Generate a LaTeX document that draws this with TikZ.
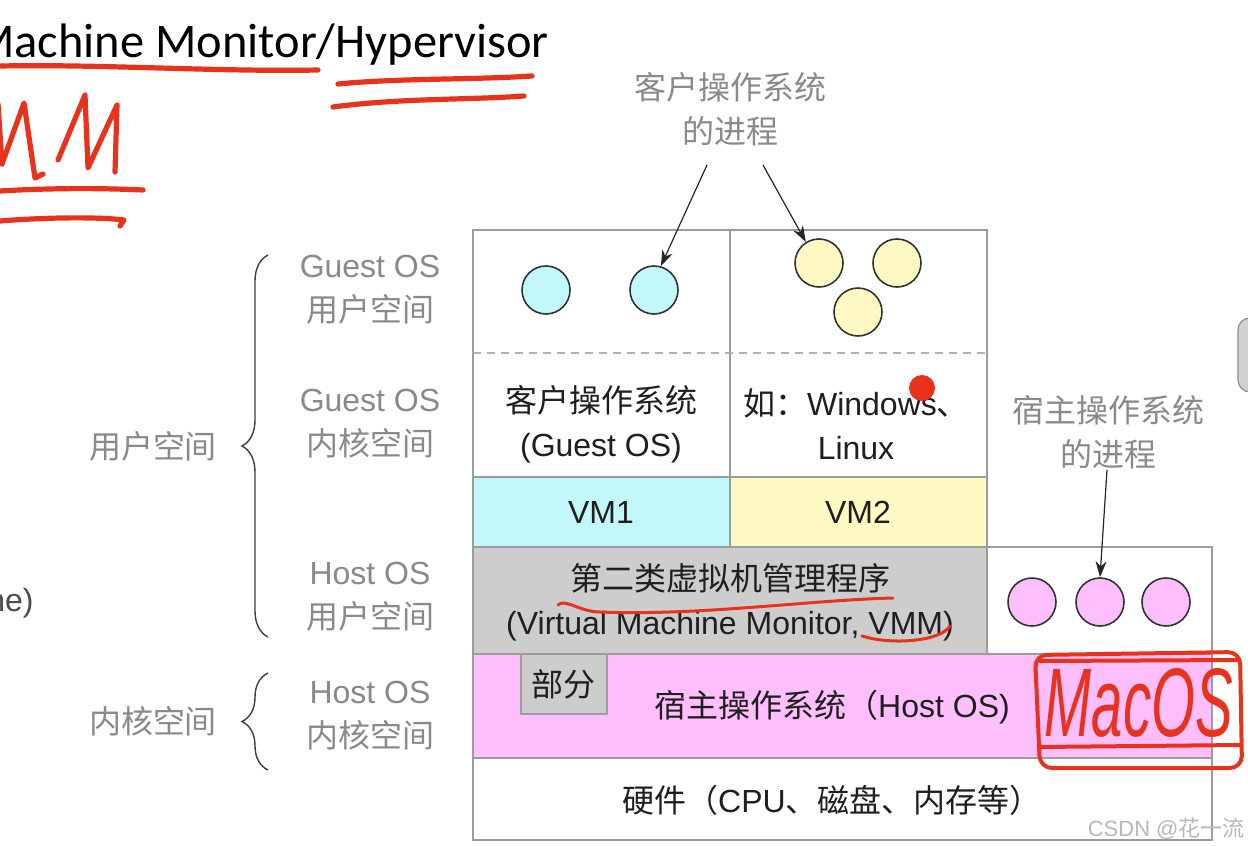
\documentclass[tikz,border=0pt]{standalone}
\usepackage{fontspec}
\usepackage{graphicx}
\setmainfont{Liberation Sans}
\newfontfamily\cjk{Noto Sans CJK SC}
\newfontfamily\titlefont{Carlito}
\usetikzlibrary{arrows.meta,decorations.pathreplacing}
\newcommand\zh[1]{{\cjk #1}}
\definecolor{boxline}{HTML}{9C9C9C}
\definecolor{cyanfill}{HTML}{C2F8F9}
\definecolor{yellowfill}{HTML}{FFFAC4}
\definecolor{grayfill}{HTML}{CDCDCD}
\definecolor{pinkfill}{HTML}{FFBEFD}
\definecolor{labelgray}{HTML}{8A8A8A}
\definecolor{inkred}{HTML}{E8321C}
\begin{document}
\begin{tikzpicture}[x=0.5pt,y=-0.5pt,
  layer/.style={draw=boxline, line width=0.75pt},
  txt/.style={font=\fontsize{16pt}{22pt}\selectfont, align=center, inner sep=0pt, text=black!88},
  side/.style={txt, text=labelgray},
  proc/.style={circle, draw=black!80, line width=0.8pt, minimum size=24pt, inner sep=0pt},
  pointer/.style={-{Stealth[length=8pt,width=5.5pt]}, line width=0.6pt, draw=black!85},
  bracepen/.style={draw=black!75, line width=0.7pt, decorate},
  redpen/.style={draw=inkred, line width=2.6pt, line cap=round, line join=round},
  thinred/.style={draw=inkred, line width=1.5pt, line cap=round, line join=round}]
\useasboundingbox (0,0) rectangle (1248,846);
\fill[white] (0,0) rectangle (1248,846);
\begin{scope}
\clip (0,0) rectangle (1248,846);

% ---------- title (cut at the left edge, as in the reference) ----------
\node[anchor=base west, inner sep=0pt, font=\titlefont\fontsize{24.2pt}{29pt}\selectfont] (title) at (-27,57) {Machine Monitor/Hypervisor};
\node[anchor=base west, inner sep=0pt, text=black!70, font=\fontsize{16pt}{22pt}\selectfont] (cut) at (-13,611) {ne)};

% ---------- layers ----------
\path[layer, fill=white] (473,230) rectangle (730,477);
\path[layer, fill=white] (730,230) rectangle (987,477);
\draw[boxline!80, line width=0.7pt, dash pattern=on 4pt off 3pt] (473,353) -- (987,353);
\path[layer, fill=cyanfill] (473,477) rectangle (730,547);
\path[layer, fill=yellowfill] (730,477) rectangle (987,547);
\path[layer, fill=grayfill] (473,547) rectangle (987,654);
\path[layer, fill=white] (987,547) rectangle (1212,654);
\path[layer, fill=pinkfill] (473,654) rectangle (1212,758);
\path[layer, fill=white] (473,758) rectangle (1212,840);
\path[layer, fill=grayfill] (521,654) rectangle (607,714);

% ---------- texts in layers ----------
\node[txt] (guest) at (601,424) {\zh{客户操作系统}\\(Guest OS)};
\node[txt] (eg) at (856,424) {\zh{如：}Windows\zh{、}\\Linux};
\node[txt] (vm1) at (601,512) {VM1};
\node[txt] (vm2) at (858,512) {VM2};
\node[txt] (vmm) at (730,602) {\zh{第二类虚拟机管理程序}\\(Virtual Machine Monitor, VMM)};
\node[txt] (part) at (563,684) {\zh{部分}};
\node[txt] (host) at (832,707) {\zh{宿主操作系统（}Host OS)};
\node[txt] (hw) at (832,800) {\zh{硬件（}CPU\zh{、磁盘、内存等）}};

% ---------- processes ----------
\node[proc, fill=cyanfill] (g1) at (546,290) {};
\node[proc, fill=cyanfill] (g2) at (654,290) {};
\node[proc, fill=yellowfill] (y1) at (819,263) {};
\node[proc, fill=yellowfill] (y2) at (897,263) {};
\node[proc, fill=yellowfill] (y3) at (858,312) {};
\node[proc, fill=pinkfill] (p1) at (1032,602) {};
\node[proc, fill=pinkfill] (p2) at (1100,602) {};
\node[proc, fill=pinkfill] (p3) at (1166,602) {};

% ---------- callouts ----------
\node[side] (gproc) at (730,109) {\zh{客户操作系统}\\\zh{的进程}};
\node[side] (hproc) at (1108,432) {\zh{宿主操作系统}\\\zh{的进程}};
\coordinate (ga) at (707,165);
\coordinate (gb) at (763,165);
\coordinate (ha) at (1107,470);
\draw[pointer] (ga) -- (g2.74);
\draw[pointer] (gb) -- (y1.122);
\draw[pointer] (ha) -- (p2.north);

% ---------- side labels ----------
\node[side] (l1) at (370,290) {Guest OS\\\zh{用户空间}};
\node[side] (l2) at (370,424) {Guest OS\\\zh{内核空间}};
\node[side] (l3) at (370,597) {Host OS\\\zh{用户空间}};
\node[side] (l4) at (370,716) {Host OS\\\zh{内核空间}};
\node[side] (us) at (153,446) {\zh{用户空间}};
\node[side] (ks) at (153,721) {\zh{内核空间}};
\coordinate (b1a) at (268,637);
\coordinate (b1b) at (268,255);
\coordinate (b2a) at (268,770);
\coordinate (b2b) at (268,673);
\draw[bracepen, decoration={brace, amplitude=13pt}] (b1a) -- (b1b);
\draw[bracepen, decoration={brace, amplitude=13pt}] (b2a) -- (b2b);

% ---------- watermark & screen artefacts ----------
\node[anchor=base east, inner sep=0pt, text=black!28, font=\fontsize{11pt}{13pt}\selectfont] (mark) at (1245,836) {CSDN @\zh{花一流}};
\fill[inkred] (922,388) circle (6.5pt);
\path[draw=black!45, fill=black!18, rounded corners=6pt, line width=0.6pt] (1238,318) rectangle (1275,392);

% ---------- red handwriting ----------
\draw[redpen] (0,66) .. controls (100,64) and (220,72) .. (318,70);
\draw[redpen] (338,84) .. controls (400,78) and (470,80) .. (532,76);
\draw[redpen] (333,107) .. controls (400,98) and (470,100) .. (524,96);
\draw[redpen] (-2,104) -- (2,164);
\draw[redpen] (2,164) -- (24,103) -- (35,178) -- (43,174);
\draw[redpen] (58,160) -- (85,95) -- (88,168) -- (117,105) -- (115,172);
\draw[redpen] (0,191) .. controls (50,188) and (100,188) .. (143,190);
\draw[redpen] (0,221) .. controls (50,217) and (100,217) .. (124,220) -- (120,226);
\draw[thinred] (558,605) .. controls (565,598) and (580,612) .. (600,612) .. controls (700,616) and (810,600) .. (893,598);
\draw[thinred] (862,636) .. controls (890,645) and (940,642) .. (950,626);
\node[text=inkred, inner sep=0pt] (mac) at (1139,703) {\resizebox{94pt}{34pt}{\itshape MacOS}};
\draw[thinred, line width=2pt, rounded corners=6pt] (1035,655) -- (1240,652) -- (1242,768) -- (1040,768) -- cycle;
\draw[thinred, line width=2pt] (1040,661) -- (1238,660);
\draw[thinred, line width=2pt] (1040,747) -- (1240,745);
\end{scope}
\end{tikzpicture}
\end{document}
